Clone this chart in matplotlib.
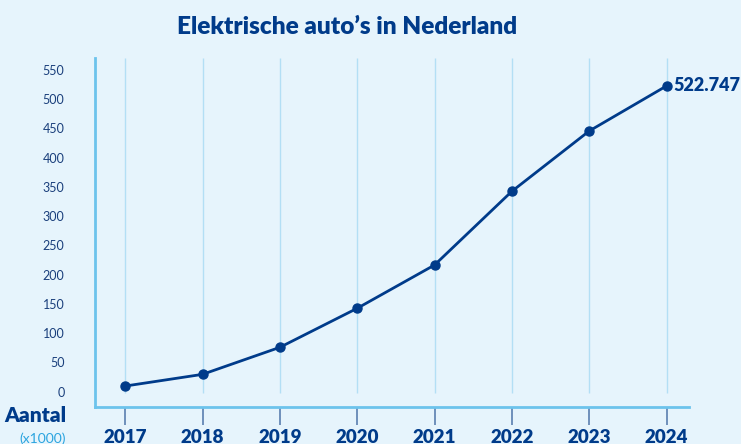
import numpy as np
import matplotlib
matplotlib.use("Agg")
import matplotlib.pyplot as plt

years = [2017, 2018, 2019, 2020, 2021, 2022, 2023, 2024]
aantal = [9.7, 29.7, 75.9, 142.6, 216.6, 342.6, 445.7, 522.747]  # x1000
y_ticks = [0, 50, 100, 150, 200, 250, 300, 350, 400, 450, 500, 550]
last_label = "522.747"

BG = "#e6f4fc"
NAVY = "#003b8a"
TXT = "#1a3f7c"
LIGHT = "#6cc3ec"
GRID = "#b3dff5"

plt.rcParams['font.family'] = ['Lato', 'DejaVu Sans']

fig = plt.figure(figsize=(7.41, 4.44), dpi=100, facecolor=BG)
ax = fig.add_axes([0.1282, 0.084, 0.8016, 0.7854], facecolor=BG)

ax.set_xlim(2016.61, 2024.29)
ax.set_ylim(-25.6, 570.5)

# vertical gridlines stop just above the x axis
ax.vlines(years, -2, 570.5, color=GRID, lw=1, zorder=1)

ax.plot(years, aantal, color=NAVY, lw=2, marker="o", ms=6.5, zorder=3)
ax.annotate(last_label, (years[-1], aantal[-1]), xytext=(5, 0),
            textcoords="offset points", va="center", ha="left",
            fontsize=13, fontweight="heavy", color=NAVY)

for s in ["top", "right"]:
    ax.spines[s].set_visible(False)
for s in ["left", "bottom"]:
    ax.spines[s].set_color(LIGHT)
    ax.spines[s].set_linewidth(2)

ax.set_yticks(y_ticks)
ax.set_yticklabels([str(t) for t in y_ticks])
ax.tick_params(axis="y", length=0, pad=22, labelsize=9, labelcolor=TXT)

ax.set_xticks(years)
ax.set_xticklabels([str(y) for y in years])
ax.tick_params(axis="x", length=13, width=1.2, color="#5a7fb0", pad=3,
               labelsize=13.5, labelcolor=NAVY)
for lbl in ax.get_xticklabels():
    lbl.set_fontweight("heavy")

fig.text(0.468, 0.94, "Elektrische auto’s in Nederland", ha="center", va="center",
         fontsize=17.6, fontweight="heavy", color=NAVY)
fig.text(0.089, 0.064, "Aantal", ha="right", va="center",
         fontsize=15, fontweight="heavy", color=NAVY)
fig.text(0.089, 0.012, "(x1000)", ha="right", va="center",
         fontsize=10, color="#2ba4df")

fig.savefig("out.png", dpi=100, facecolor=BG)
